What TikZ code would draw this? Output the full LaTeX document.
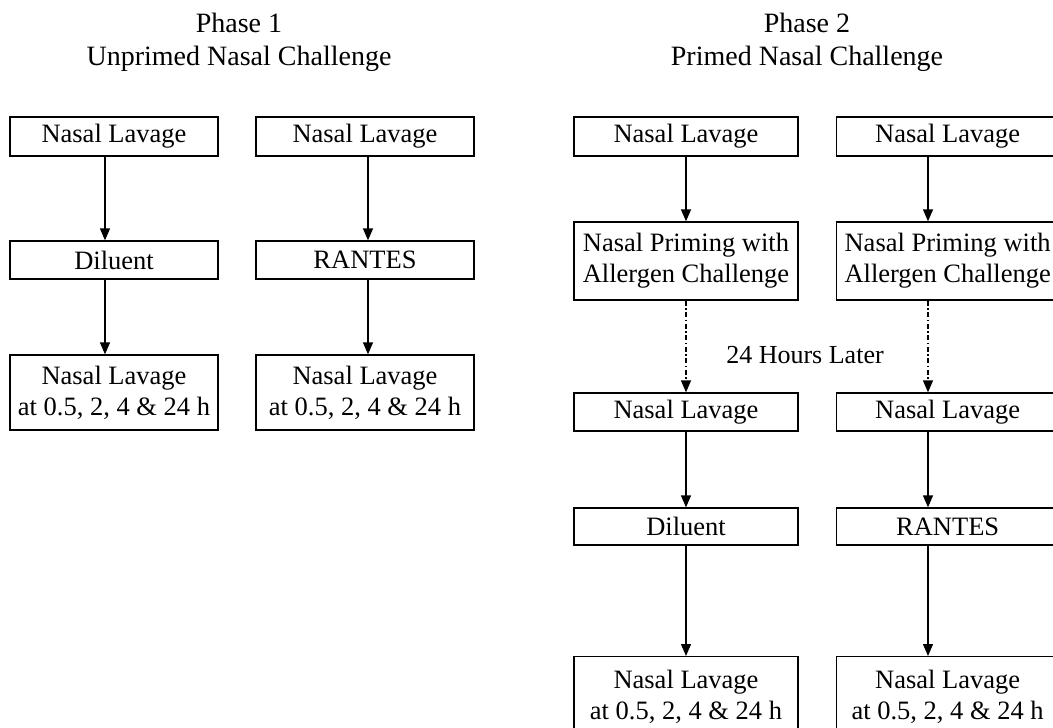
\documentclass[tikz,border=0pt]{standalone}
\usepackage{fontspec}
\setmainfont{Liberation Serif}
\usetikzlibrary{arrows.meta}
\begin{document}
\begin{tikzpicture}[x=1pt,y=-1pt,
  every node/.style={font=\fontsize{26.5}{31}\selectfont},
  box/.style={draw, line width=1.3pt, rectangle, inner sep=0pt, align=center},
  flow/.style={line width=1.3pt, -{Triangle[length=12pt,width=10pt]}},
  later/.style={line width=1.3pt, dash pattern=on 5pt off 2.5pt on 1.5pt off 2.5pt, -{Triangle[length=12pt,width=10pt]}},
  title/.style={align=center, font=\fontsize{28}{33}\selectfont}]
\useasboundingbox (0,0) rectangle (1053,728);
% titles
\node[title] (t1) at (239,42) {Phase 1\\Unprimed Nasal Challenge};
\node[title] (t2) at (807,42) {Phase 2\\Primed Nasal Challenge};
% phase 1
\node[box, minimum width=208pt, minimum height=39pt] (a1) at (114,136.5) {Nasal Lavage};
\node[box, minimum width=208pt, minimum height=38pt] (a2) at (114,260) {Diluent};
\node[box, minimum width=208pt, minimum height=75pt] (a3) at (114,392.5) {Nasal Lavage\\at 0.5, 2, 4 \& 24 h};
\node[box, minimum width=218pt, minimum height=39pt] (b1) at (365,136.5) {Nasal Lavage};
\node[box, minimum width=218pt, minimum height=38pt] (b2) at (365,260) {RANTES};
\node[box, minimum width=218pt, minimum height=75pt] (b3) at (365,392.5) {Nasal Lavage\\at 0.5, 2, 4 \& 24 h};
\coordinate (xa) at (105,0);
\coordinate (xb) at (368,0);
\draw[flow] (a1.south -| xa) -- (a2.north -| xa);
\draw[flow] (a2.south -| xa) -- (a3.north -| xa);
\draw[flow] (b1.south -| xb) -- (b2.north -| xb);
\draw[flow] (b2.south -| xb) -- (b3.north -| xb);
% phase 2
\node[box, minimum width=224pt, minimum height=39pt] (c1) at (686,136.5) {Nasal Lavage};
\node[box, minimum width=224pt, minimum height=78pt] (c2) at (686,261) {Nasal Priming with\\Allergen Challenge};
\node[box, minimum width=224pt, minimum height=38pt] (c3) at (686,412) {Nasal Lavage};
\node[box, minimum width=224pt, minimum height=37pt] (c4) at (686,526.5) {Diluent};
\node[box, minimum width=224pt, minimum height=80pt, anchor=north] (c5) at (686,656) {Nasal Lavage\\at 0.5, 2, 4 \& 24 h};
\node[box, minimum width=222pt, minimum height=39pt, anchor=west] (d1) at (836,136.5) {Nasal Lavage};
\node[box, minimum width=222pt, minimum height=78pt, anchor=west] (d2) at (836,261) {Nasal Priming with\\Allergen Challenge};
\node[box, minimum width=222pt, minimum height=38pt, anchor=west] (d3) at (836,412) {Nasal Lavage};
\node[box, minimum width=222pt, minimum height=37pt, anchor=west] (d4) at (836,526.5) {RANTES};
\node[box, minimum width=222pt, minimum height=80pt, anchor=north west] (d5) at (836,656) {Nasal Lavage\\at 0.5, 2, 4 \& 24 h};
\node[font=\fontsize{26}{31}\selectfont] (hl) at (805,355) {24 Hours Later};
\coordinate (xc) at (686,0);
\coordinate (xd) at (928,0);
\draw[flow] (c1.south -| xc) -- (c2.north -| xc);
\draw[later] (c2.south -| xc) -- (c3.north -| xc);
\draw[flow] (c3.south -| xc) -- (c4.north -| xc);
\draw[flow] (c4.south -| xc) -- (c5.north -| xc);
\draw[flow] (d1.south -| xd) -- (d2.north -| xd);
\draw[later] (d2.south -| xd) -- (d3.north -| xd);
\draw[flow] (d3.south -| xd) -- (d4.north -| xd);
\draw[flow] (d4.south -| xd) -- (d5.north -| xd);
\end{tikzpicture}
\end{document}
